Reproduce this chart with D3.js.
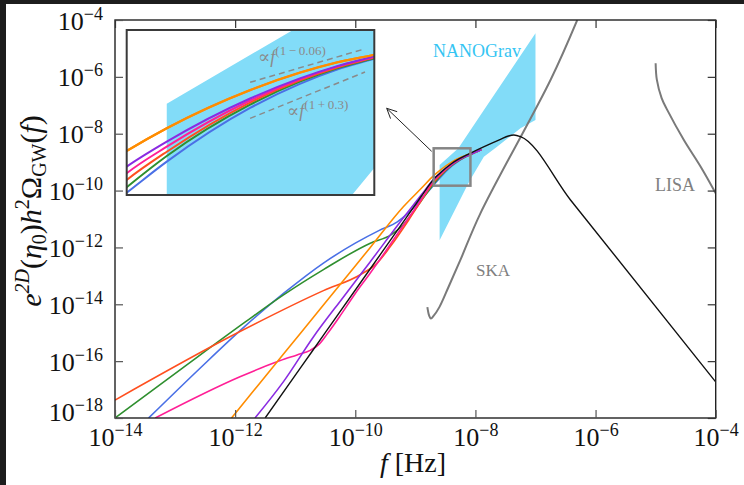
<!DOCTYPE html>
<html>
<head>
<meta charset="utf-8">
<script src="https://cdn.jsdelivr.net/npm/d3@7"></script>
<style>
  body { margin: 0; background: #1d1d1d; }
  svg { display: block; }
</style>
</head>
<body>
<svg id="chart" width="744" height="485"></svg>
<script>
// tick exponents (labels are 10^e)
var xTickExp = [-14, -12, -10, -8, -6, -4];
var yTickExp = [-18, -16, -14, -12, -10, -8, -6, -4];

// spectra, as [log10 f, log10 Omega]
var blueCurve = [[-13.44,-18],[-12.58,-16.24],[-11.83,-14.76],[-11.195,-13.62],[-10.53,-12.55],[-10.0,-11.85],
  [-9.6,-11.4],[-9.3,-11.1],[-9.1,-10.75],[-8.9,-10.3],[-8.695,-9.809],[-8.596,-9.562],[-8.39,-9.134],
  [-8.267,-8.942],[-8.175,-8.829],[-8.086,-8.745],[-7.9,-8.56]];
var greenCurve = [[-14,-18],[-12.9,-16.28],[-11.83,-14.62],[-11.195,-13.67],[-10.53,-12.78],[-9.75,-11.85],
  [-9.4,-11.55],[-9.2,-11.2],[-8.95,-10.5],[-8.695,-9.766],[-8.596,-9.517],[-8.39,-9.108],[-8.267,-8.925],
  [-8.175,-8.818],[-8.086,-8.74],[-7.9,-8.56]];
var redCurve = [[-14,-17.37],[-11.92,-14.96],[-10.53,-13.52],[-9.917,-12.96],[-9.64,-12.56],[-9.417,-11.97],
  [-9.1,-11.0],[-8.9,-10.35],[-8.695,-9.708],[-8.596,-9.483],[-8.39,-9.091],[-8.267,-8.915],[-8.175,-8.812],
  [-8.086,-8.735],[-7.9,-8.56]];
var pinkCurve = [[-13.33,-18],[-11.92,-16.55],[-11.58,-16.25],[-11.25,-15.98],[-10.97,-15.78],[-10.75,-15.62],
  [-10.6,-15.4],[-10.47,-15.05],[-10.25,-14.4],[-10.0,-13.62],[-9.75,-12.9],[-9.5,-12.15],[-9.25,-11.38],
  [-9.0,-10.62],[-8.85,-10.15],[-8.695,-9.655],[-8.596,-9.443],[-8.39,-9.075],[-8.267,-8.906],[-8.175,-8.805],
  [-8.086,-8.73],[-7.9,-8.56]];
var orangeCurve = [[-12.06,-18],[-11.6,-16.8],[-11.195,-15.75],[-10.5,-13.95],[-9.75,-12.0],[-9.2,-10.57],
  [-8.9,-9.92],[-8.695,-9.477],[-8.596,-9.296],[-8.39,-8.992],[-8.267,-8.853],[-8.175,-8.771],[-8.086,-8.712],
  [-7.9,-8.55]];
var purpleCurve = [[-11.67,-18],[-11.195,-16.72],[-10.695,-15.14],[-10.2,-13.75],[-9.75,-12.5],[-9.25,-11.1],
  [-8.9,-10.15],[-8.695,-9.602],[-8.596,-9.403],[-8.39,-9.059],[-8.267,-8.899],[-8.175,-8.801],[-8.086,-8.725],
  [-7.9,-8.555]];
var blackCurve = [[-11.5,-18],[-10.72,-15.66],[-9.75,-12.75],[-9.25,-11.25],[-8.9,-10.2],[-8.695,-9.6],
  [-8.596,-9.4],[-8.39,-9.04],[-8.267,-8.88],[-8.08,-8.68],[-7.583,-8.2],[-7.45,-8.08],[-7.36,-8.045],
  [-7.25,-8.1],[-6.417,-10.33],[-4,-16.73]];

// sensitivity curves and the NANOGrav region
var skaCurve = [[-8.8,-14.1],[-8.77,-14.4],[-8.74,-14.5],[-8.7,-14.42],[-8.6,-14.1],[-8.45,-13.4],
  [-8.25,-12.44],[-7.917,-10.8],[-6.75,-6.11],[-6.305,-4]];
var lisaCurve = [[-5.0,-5.52],[-4.98,-6.1],[-4.9,-6.75],[-4.805,-7.17],[-4.53,-8.22],[-4.25,-9.16],
  [-4.03,-9.98],[-4.0,-10.1]];
var nanogravBand = [[-8.596,-11.75],[-8.596,-9.10],[-8.284,-8.513],[-7.9,-7.3],[-7.0,-4.47],[-7.0,-7.52],
  [-7.25,-7.81],[-7.64,-8.46],[-7.86,-8.81],[-8.083,-9.613],[-8.138,-9.828]];

// inset: zoom window and power-law guides
var zoomWindow = [[-8.695,-8.513],[-8.083,-9.828]];
var guideUpper = [[-8.39,-8.93],[-8.106,-8.663]];
var guideLower = [[-8.39,-9.217],[-8.106,-8.848]];

var seriesList = [
  {pts: blueCurve, color: "#4a70e6"},
  {pts: greenCurve, color: "#2f8f2f"},
  {pts: redCurve, color: "#ff4f1f"},
  {pts: pinkCurve, color: "#ff1f96"},
  {pts: orangeCurve, color: "#ff8c00"},
  {pts: purpleCurve, color: "#8a2be2"},
  {pts: blackCurve, color: "#111"}
];

var serif = "'Liberation Serif','DejaVu Serif',serif";
var W = 744, H = 485;
var svg = d3.select("#chart");
svg.append("rect").attr("x", 6).attr("y", 4).attr("width", W - 6).attr("height", H - 4).attr("fill", "#fff");

var x = d3.scaleLog().domain([1e-14, 1e-4]).range([115, 715.7]);
var y = d3.scaleLog().domain([1e-18, 1e-4]).range([418, 20]);
var p10 = function(v) { return Math.pow(10, v); };

function lineFor(sx, sy, curve) {
  return d3.line()
    .x(function(d) { return sx(p10(d[0])); })
    .y(function(d) { return sy(p10(d[1])); })
    .curve(curve);
}

var defs = svg.append("defs");
defs.append("clipPath").attr("id", "plotclip").append("rect")
  .attr("x", 115).attr("y", 20).attr("width", 600.7).attr("height", 398);

var plot = svg.append("g").attr("clip-path", "url(#plotclip)");

// NANOGrav region
plot.append("path")
  .attr("d", lineFor(x, y, d3.curveLinear)(nanogravBand) + "Z")
  .attr("fill", "#82dcf8");

// detector curves
[skaCurve, lisaCurve].forEach(function(c) {
  plot.append("path")
    .attr("d", lineFor(x, y, d3.curveCatmullRom)(c))
    .attr("fill", "none").attr("stroke", "#7a7a7a").attr("stroke-width", 2);
});

seriesList.forEach(function(s) {
  plot.append("path")
    .attr("d", lineFor(x, y, d3.curveMonotoneX)(s.pts))
    .attr("fill", "none").attr("stroke", s.color)
    .attr("stroke-width", s.color == "#111" ? 1.4 : 1.6);
});

// zoom box
var bx0 = x(p10(zoomWindow[0][0])), bx1 = x(p10(zoomWindow[1][0]));
var by0 = y(p10(zoomWindow[0][1])), by1 = y(p10(zoomWindow[1][1]));
svg.append("rect").attr("x", bx0).attr("y", by0).attr("width", bx1 - bx0).attr("height", by1 - by0)
  .attr("fill", "none").attr("stroke", "#858585").attr("stroke-width", 2.5);

// labels for region / detectors
svg.append("text").attr("x", 433).attr("y", 57).attr("font-family", serif).attr("font-size", 18)
  .attr("fill", "#35c5f3").text("NANOGrav");
svg.append("text").attr("x", 476).attr("y", 276).attr("font-family", serif).attr("font-size", 17)
  .attr("fill", "#808080").text("SKA");
svg.append("text").attr("x", 655).attr("y", 191).attr("font-family", serif).attr("font-size", 18)
  .attr("fill", "#808080").text("LISA");

// frame
svg.append("rect").attr("x", 115).attr("y", 20).attr("width", 600.7).attr("height", 398)
  .attr("fill", "none").attr("stroke", "#222").attr("stroke-width", 1.4);

function supLabel(t, e) {
  t.text(null);
  t.append("tspan").text("10");
  t.append("tspan").attr("font-size", 18).attr("dy", -10).text("\u2212" + Math.abs(e));
}

var xTicks = xTickExp.map(p10), yTicks = yTickExp.map(p10);

var gx = svg.append("g").attr("transform", "translate(0,418)")
  .call(d3.axisBottom(x).tickValues(xTicks).tickSizeInner(-8).tickSizeOuter(0).tickPadding(0));
gx.select(".domain").remove();
gx.selectAll(".tick line").attr("stroke", "#555").attr("stroke-width", 1.2);
gx.selectAll(".tick text")
  .attr("y", 28).attr("dy", 0).attr("font-family", serif).attr("font-size", 26).attr("fill", "#111")
  .each(function(d) { supLabel(d3.select(this), Math.round(Math.log10(d))); });

var gy = svg.append("g").attr("transform", "translate(115,0)")
  .call(d3.axisLeft(y).tickValues(yTicks).tickSizeInner(-8).tickSizeOuter(0).tickPadding(0));
gy.select(".domain").remove();
gy.selectAll(".tick line").attr("stroke", "#555").attr("stroke-width", 1.2);
gy.selectAll(".tick text")
  .attr("x", -12).attr("dy", function(d) { return Math.round(Math.log10(d)) == -18 ? 2 : 9; })
  .attr("font-family", serif).attr("font-size", 26).attr("fill", "#111")
  .each(function(d) { supLabel(d3.select(this), Math.round(Math.log10(d))); });

var gt = svg.append("g").attr("transform", "translate(0,20)")
  .call(d3.axisTop(x).tickValues(xTicks).tickSizeInner(-8).tickSizeOuter(0).tickFormat(""));
gt.select(".domain").remove();
gt.selectAll(".tick line").attr("stroke", "#333").attr("stroke-width", 1.2);

var gr = svg.append("g").attr("transform", "translate(715.7,0)")
  .call(d3.axisRight(y).tickValues(yTicks).tickSizeInner(-8).tickSizeOuter(0).tickFormat(""));
gr.select(".domain").remove();
gr.selectAll(".tick line").attr("stroke", "#333").attr("stroke-width", 1.2);

// axis titles
var xt = svg.append("text").attr("x", 413).attr("y", 472).attr("text-anchor", "middle")
  .attr("font-family", serif).attr("font-size", 28).attr("fill", "#111");
xt.append("tspan").attr("font-style", "italic").text("f");
xt.append("tspan").text(" [Hz]");

var yt = svg.append("text").attr("transform", "translate(41,211) rotate(-90)").attr("text-anchor", "middle")
  .attr("font-family", serif).attr("font-size", 30).attr("fill", "#111");
yt.append("tspan").attr("font-style", "italic").text("e");
yt.append("tspan").attr("font-style", "italic").attr("font-size", 20).attr("dy", -12).text("2D");
yt.append("tspan").attr("dy", 12).text("(");
yt.append("tspan").attr("font-style", "italic").text("\u03b7");
yt.append("tspan").attr("font-size", 20).attr("dy", 5).text("0");
yt.append("tspan").attr("dy", -5).text(")");
yt.append("tspan").attr("font-style", "italic").text("h");
yt.append("tspan").attr("font-size", 20).attr("dy", -12).text("2");
yt.append("tspan").attr("dy", 12).text("\u03a9");
yt.append("tspan").attr("font-size", 20).attr("dy", 5).text("GW");
yt.append("tspan").attr("dy", -5).text("(");
yt.append("tspan").attr("font-style", "italic").text("f");
yt.append("tspan").text(")");

// ---- inset ----
var ix0 = 126.7, ix1 = 374.3, iy0 = 30, iy1 = 195;
var xi = d3.scaleLog().domain([p10(zoomWindow[0][0]), p10(zoomWindow[1][0])]).range([ix0, ix1]);
var yi = d3.scaleLog().domain([p10(zoomWindow[1][1]), p10(zoomWindow[0][1])]).range([iy1, iy0]);

defs.append("clipPath").attr("id", "insetclip").append("rect")
  .attr("x", ix0).attr("y", iy0).attr("width", ix1 - ix0).attr("height", iy1 - iy0);

svg.append("rect").attr("x", ix0).attr("y", iy0).attr("width", ix1 - ix0).attr("height", iy1 - iy0)
  .attr("fill", "#fff");
var inset = svg.append("g").attr("clip-path", "url(#insetclip)");
inset.append("path")
  .attr("d", lineFor(xi, yi, d3.curveLinear)(nanogravBand) + "Z")
  .attr("fill", "#82dcf8");

[guideUpper, guideLower].forEach(function(g) {
  inset.append("path")
    .attr("d", lineFor(xi, yi, d3.curveLinear)(g))
    .attr("fill", "none").attr("stroke", "#8a8a8a").attr("stroke-width", 1.5)
    .attr("stroke-dasharray", "6,4");
});

function guideLabel(g, dx, dy, expText) {
  var t = inset.append("text")
    .attr("x", xi(p10(g[0][0])) + dx).attr("y", yi(p10(g[0][1])) + dy)
    .attr("font-family", serif).attr("font-size", 18).attr("fill", "#8a8a8a");
  t.append("tspan").text("\u221d");
  t.append("tspan").attr("font-style", "italic").text("f");
  t.append("tspan").attr("font-size", 13).attr("dy", -8).text(expText);
}
guideLabel(guideUpper, 8, -19, "(1\u2009\u2212\u20090.06)");
guideLabel(guideLower, 37, -1, "(1\u2009+\u20090.3)");

seriesList.slice(0, 6).forEach(function(s) {
  inset.append("path")
    .attr("d", lineFor(xi, yi, d3.curveMonotoneX)(s.pts))
    .attr("fill", "none").attr("stroke", s.color).attr("stroke-width", 2);
});
// orange drawn on top
inset.append("path")
  .attr("d", lineFor(xi, yi, d3.curveMonotoneX)(orangeCurve))
  .attr("fill", "none").attr("stroke", "#ff8c00").attr("stroke-width", 2.2);

svg.append("rect").attr("x", ix0).attr("y", iy0).attr("width", ix1 - ix0).attr("height", iy1 - iy0)
  .attr("fill", "none").attr("stroke", "#3a3a3a").attr("stroke-width", 2);

// arrow from zoom box to inset
var ax0 = bx0 - 2, ay0 = by0 + 3, ax1 = ix1 + 12.4, ay1 = 108.3;
svg.append("line").attr("x1", ax0).attr("y1", ay0).attr("x2", ax1).attr("y2", ay1)
  .attr("stroke", "#222").attr("stroke-width", 1);
var ang = Math.atan2(ay0 - ay1, ax0 - ax1);
[-0.45, 0.45].forEach(function(da) {
  svg.append("line").attr("x1", ax1).attr("y1", ay1)
    .attr("x2", ax1 + 11 * Math.cos(ang + da)).attr("y2", ay1 + 11 * Math.sin(ang + da))
    .attr("stroke", "#222").attr("stroke-width", 1);
});
</script>
</body>
</html>
